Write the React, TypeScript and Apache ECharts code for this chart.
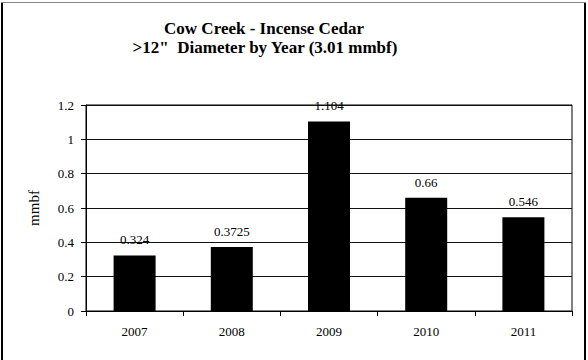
import React, { useEffect, useRef } from "react";
import * as echarts from "echarts";

const categories = ["2007", "2008", "2009", "2010", "2011"];
const values = [0.324, 0.3725, 1.104, 0.66, 0.546];
const titleLines = ["Cow Creek - Incense Cedar", ">12\"  Diameter by Year (3.01 mmbf)"];
const yAxisName = "mmbf";

const FONT = "Liberation Serif";

export default function App() {
  const ref = useRef<HTMLDivElement>(null);
  useEffect(() => {
    if (!ref.current) return;
    const chart = echarts.init(ref.current, null, { renderer: "svg" });
    chart.setOption({
      animation: false,
      backgroundColor: "#fff",
      textStyle: { fontFamily: FONT },
      graphic: [
        { type: "line", shape: { x1: 2, y1: 2, x2: 2, y2: 360 }, style: { stroke: "#000", lineWidth: 2 } },
        { type: "line", shape: { x1: 585, y1: 2, x2: 585, y2: 360 }, style: { stroke: "#000", lineWidth: 2 } },
        { type: "line", shape: { x1: 1, y1: 2.5, x2: 586, y2: 2.5 }, style: { stroke: "#888", lineWidth: 1 } },
        {
          type: "text", x: 264, y: 28,
          style: { text: titleLines[0], fontFamily: FONT, fontSize: 17, fontWeight: "bold", fill: "#000", textAlign: "center", textVerticalAlign: "middle" },
        },
        {
          type: "text", x: 265, y: 47,
          style: { text: titleLines[1], fontFamily: FONT, fontSize: 17, fontWeight: "bold", fill: "#000", textAlign: "center", textVerticalAlign: "middle" },
        },
      ],
      grid: {
        left: 86, right: 16, top: 105, bottom: 49,
        show: true, borderColor: "#000", borderWidth: 1,
      },
      xAxis: {
        type: "category",
        data: categories,
        axisLine: { lineStyle: { color: "#000", width: 1 } },
        axisTick: { show: true, length: 5, lineStyle: { color: "#000" } },
        axisLabel: { color: "#000", fontFamily: FONT, fontSize: 13, margin: 14 },
      },
      yAxis: {
        type: "value",
        min: 0, max: 1.2, interval: 0.2,
        name: yAxisName,
        nameLocation: "middle",
        nameGap: 45,
        nameTextStyle: { color: "#000", fontFamily: FONT, fontSize: 15 },
        axisLine: { show: true, lineStyle: { color: "#000", width: 1 } },
        axisTick: { show: true, length: 5, lineStyle: { color: "#000" } },
        axisLabel: {
          color: "#000", fontFamily: FONT, fontSize: 13, margin: 12,
          formatter: (v: number) => String(Math.round(v * 10) / 10),
        },
        splitLine: { lineStyle: { color: "#111", width: 1 } },
      },
      series: [
        {
          type: "bar",
          data: values,
          barWidth: 42,
          itemStyle: { color: "#000" },
          label: {
            show: true, position: "top", distance: 9,
            color: "#000", fontFamily: FONT, fontSize: 13,
            formatter: (p: any) => String(p.value),
          },
        },
      ],
    });
    return () => chart.dispose();
  }, []);
  return <div ref={ref} style={{ position: "fixed", left: 0, top: 0, width: 588, height: 360 }} />;
}
